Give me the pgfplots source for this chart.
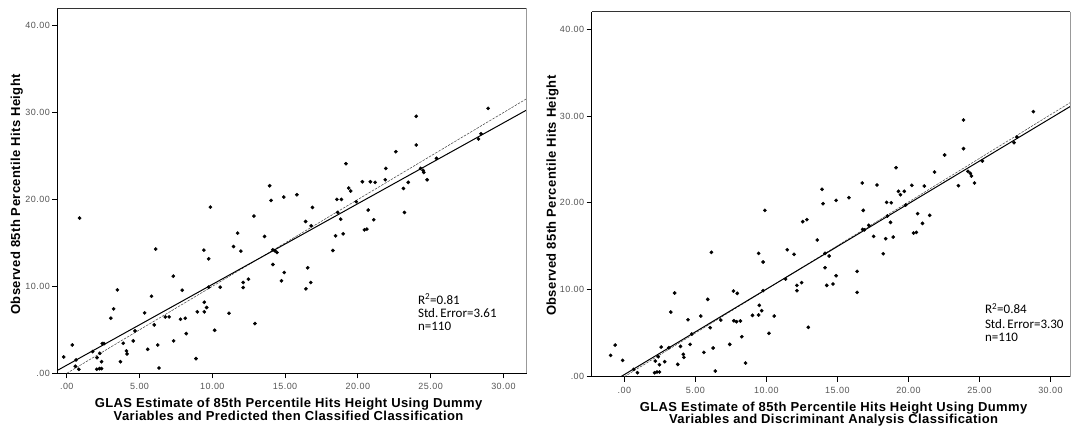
\documentclass[border=0pt]{standalone}
\usepackage{pgfplots}
\pgfplotsset{compat=1.18}
\usepackage{fontspec}
\setmainfont{Liberation Sans}
\newfontfamily\labfont[LetterSpace=3]{Liberation Sans}
\newfontfamily\tickfont[LetterSpace=5]{Liberation Sans}
\newfontfamily\annfont{Carlito}
\definecolor{tickgray}{HTML}{555555}
\definecolor{framegray}{HTML}{999999}
\definecolor{topgray}{HTML}{333333}

\pgfplotsset{
 myaxis/.style={
  scale only axis,
  anchor=south west,
  ymin=0, ymax=42,
  axis x line*=bottom, axis y line*=left,
  axis line style={black, line width=0.9pt, -},
  xtick={0,5,...,30}, xticklabels={.00,5.00,10.00,15.00,20.00,25.00,30.00},
  ytick={0,10,20,30,40}, yticklabels={.00,10.00,20.00,30.00,40.00},
  tick align=outside, major tick length=5pt, tick style={black, line width=0.8pt},
  minor tick num=0,
  tick label style={font=\tickfont\fontsize{9}{11}\selectfont, text=tickgray},
  yticklabel style={xshift=1pt},
  xticklabel style={yshift=-1.5pt},
  label style={font=\labfont\bfseries\fontsize{13}{12.5}\selectfont},
  xlabel style={align=center, anchor=north, inner sep=0pt},
  ylabel style={anchor=center, inner sep=0pt},
 },
 dots/.style={only marks, mark=*, mark size=1.65pt, mark options={draw=none, fill=black}},
 fitline/.style={black, line width=1pt, no marks},
 refline/.style={black!75, line width=0.5pt, dash pattern=on 2.5pt off 1.2pt, no marks},
}

\begin{document}
\begin{tikzpicture}
\useasboundingbox (0,0) rectangle (1079pt,426pt);

% ---------------- Left panel ----------------
\begin{axis}[myaxis, name=L,
  at={(57.3pt,52.7pt)}, width=469.4pt, height=365pt,
  xmin=-0.65, xmax=31.6,
  xlabel={GLAS Estimate of 85th Percentile Hits Height Using Dummy\\Variables and Predicted then Classified Classification},
  xlabel style={at={(axis description cs:0.4926,0)}, yshift=-25pt},
  ylabel={Observed 85th Percentile Hits Height},
  ylabel style={at={(axis description cs:-0.0865,0.49)}},
]
\addplot[dots] coordinates {
(-0.21,1.88) (0.38,3.26) (0.64,1.54) (0.59,0.81) (0.83,0.46) (0.88,17.86) (1.78,2.50) (2.08,1.80) (2.06,0.46) (2.27,2.30)
(2.25,0.54) (2.39,0.54) (2.39,1.34) (2.44,3.42) (2.56,3.42) (3.03,6.34) (3.22,7.41) (3.48,9.60) (3.69,1.34) (3.88,3.46)
(4.10,2.57) (4.14,2.23) (4.57,3.73) (4.69,4.88) (5.35,6.95) (5.56,2.76) (5.82,8.87) (6.01,5.57) (6.11,14.29) (6.25,3.26)
(6.34,0.61) (6.77,6.49) (7.03,6.49) (7.32,11.18) (7.34,3.73) (7.81,6.22) (7.93,9.56) (8.14,6.34) (8.21,4.57) (8.88,1.69)
(8.97,7.07) (9.45,8.18) (9.42,14.17) (9.45,7.07) (9.61,7.57) (9.75,9.91) (9.75,13.17) (9.87,19.12) (10.16,4.95) (10.54,9.91)
(11.15,6.91) (11.46,14.59) (11.74,16.13) (11.96,14.06) (12.12,10.45) (12.12,9.87) (12.48,10.83) (12.86,18.09) (12.93,5.72) (13.59,15.75)
(13.94,21.58) (14.04,19.89) (14.16,14.21) (14.16,12.52) (14.44,13.90) (14.75,10.64) (14.94,11.60) (14.91,20.28) (15.81,20.55) (16.41,17.47)
(16.43,9.72) (16.55,12.14) (16.79,16.97) (16.76,10.45) (16.88,19.09) (18.28,14.13) (18.47,15.82) (18.56,20.01) (18.61,18.51) (18.82,17.74)
(18.87,20.01) (18.99,16.05) (19.18,24.12) (19.37,21.31) (19.51,20.97) (19.89,19.74) (20.31,22.04) (20.45,16.51) (20.62,16.59) (20.71,18.78)
(20.86,22.04) (21.09,17.67) (21.19,21.97) (21.88,22.27) (21.92,23.58) (22.61,25.50) (23.13,21.27) (23.20,18.51) (23.46,21.97) (24.01,29.57)
(24.01,26.27) (24.31,23.58) (24.48,23.35) (24.53,23.12) (24.76,22.27) (25.40,24.73) (28.29,26.96) (28.46,27.57) (28.95,30.49) (14.30,14.10)
};
\addplot[refline] coordinates {(0,0) (31.6,31.6)};
\addplot[fitline] coordinates {(-0.65,0.33) (31.6,30.3)};
\node[anchor=base west, inner sep=0pt, font=\annfont\fontsize{13}{13}\selectfont] at (axis cs:24.12,7.97) {R\textsuperscript{2}=0.81};
\node[anchor=base west, inner sep=0pt, font=\annfont\fontsize{13}{13}\selectfont] at (axis cs:24.12,6.44) {Std.\,Error=3.61};
\node[anchor=base west, inner sep=0pt, font=\annfont\fontsize{13}{13}\selectfont] at (axis cs:24.12,4.87) {n=110};
\end{axis}
\draw[topgray, line width=0.9pt] (L.north west) -- (L.north east);
\draw[framegray, line width=0.9pt] (L.north east) -- (L.south east);

% ---------------- Right panel ----------------
\begin{axis}[myaxis, name=R,
  at={(591.7pt,49.3pt)}, width=478.6pt, height=365pt,
  xmin=-2.3, xmax=31.4,
  xlabel={GLAS Estimate of 85th Percentile Hits Height Using Dummy\\Variables and Discriminant Analysis Classification},
  xlabel style={at={(axis description cs:0.5054,0)}, yshift=-25pt},
  ylabel={Observed 85th Percentile Hits Height},
  ylabel style={at={(axis description cs:-0.082,0.496)}},
]
\addplot[dots] coordinates {
(-0.97,2.45) (-0.65,3.64) (-0.12,1.88) (0.65,0.84) (0.92,0.46) (2.18,1.80) (2.13,0.46) (2.30,0.54) (2.47,0.54) (2.38,2.30)
(2.47,1.38) (2.59,3.41) (2.84,1.73) (3.13,3.34) (3.27,7.44) (3.54,9.63) (3.76,1.42) (3.95,3.49) (4.15,2.57) (4.19,2.22)
(4.48,6.56) (4.63,3.72) (4.75,4.91) (5.38,6.98) (5.60,2.80) (5.87,8.90) (6.04,5.64) (6.13,14.31) (6.25,3.30) (6.40,0.65)
(6.79,6.52) (7.42,3.72) (7.68,9.86) (7.71,6.44) (7.90,6.33) (7.95,9.59) (8.17,6.41) (8.27,4.60) (8.53,1.57) (9.02,7.06)
(9.45,7.10) (9.50,8.21) (9.45,14.19) (9.67,7.60) (9.77,9.90) (9.77,13.20) (9.89,19.14) (10.18,4.99) (10.55,6.98) (11.35,11.24)
(11.47,14.61) (11.95,14.08) (12.15,10.51) (12.15,9.90) (12.48,10.82) (12.56,17.84) (12.85,18.07) (12.95,5.68) (13.58,15.73) (13.92,21.56)
(13.99,19.91) (14.13,14.19) (14.13,12.54) (14.25,10.51) (14.42,13.89) (14.69,10.66) (14.91,11.62) (14.91,20.29) (15.81,20.60) (16.39,12.12)
(16.39,9.70) (16.75,22.29) (16.78,16.95) (16.82,19.14) (17.21,17.42) (17.55,16.15) (17.79,22.06) (18.23,14.15) (18.40,15.88) (18.47,20.06)
(18.52,18.49) (18.74,17.76) (18.79,20.02) (18.93,16.07) (19.13,24.05) (19.30,21.33) (19.44,20.94) (19.71,21.33) (19.81,19.75) (20.24,22.02)
(20.36,16.53) (20.56,16.61) (20.65,18.76) (20.99,17.64) (21.12,21.94) (21.50,18.57) (21.84,23.55) (22.55,25.51) (23.52,21.98) (23.88,29.54)
(23.88,26.24) (24.19,23.63) (24.36,23.40) (24.44,23.09) (24.65,22.29) (25.21,24.82) (27.44,26.93) (27.64,27.58) (28.80,30.50) (16.90,16.90)
};
\addplot[refline] coordinates {(0,0) (31.4,31.55)};
\addplot[fitline] coordinates {(-0.25,0) (31.4,31.1)};
\node[anchor=base west, inner sep=0pt, font=\annfont\fontsize{13}{13}\selectfont] at (axis cs:25.38,7.22) {R\textsuperscript{2}=0.84};
\node[anchor=base west, inner sep=0pt, font=\annfont\fontsize{13}{13}\selectfont] at (axis cs:25.38,5.57) {Std.\,Error=3.30};
\node[anchor=base west, inner sep=0pt, font=\annfont\fontsize{13}{13}\selectfont] at (axis cs:25.38,4.03) {n=110};
\end{axis}
\draw[topgray, line width=0.9pt] (R.north west) -- (R.north east);
\draw[framegray, line width=0.9pt] (R.north east) -- (R.south east);
\end{tikzpicture}
\end{document}
